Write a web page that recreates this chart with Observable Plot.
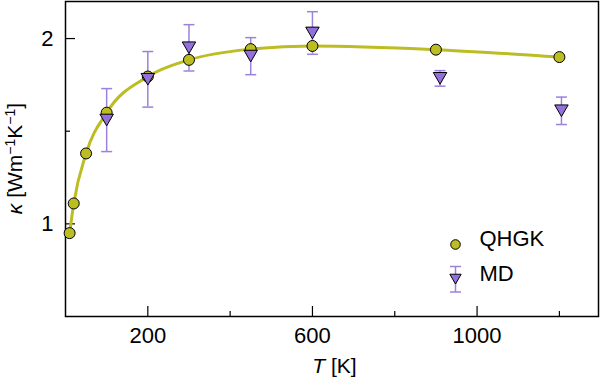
<!DOCTYPE html>
<html>
<head>
<meta charset="utf-8">
<script src="https://cdn.jsdelivr.net/npm/d3@7"></script>
<script src="https://cdn.jsdelivr.net/npm/@observablehq/plot@0.6"></script>
<style>
  html, body { margin: 0; padding: 0; background: #fff; }
  #chart svg { display: block; font-family: "Liberation Sans", Arial, Helvetica, sans-serif; }
</style>
</head>
<body>
<div id="chart"></div>
<script>
// ---- data ----
const qhgkT = [10, 20, 50, 100, 200, 300, 450, 600, 900, 1200];
const qhgkK = [0.95, 1.11, 1.38, 1.60, 1.795, 1.885, 1.943, 1.96, 1.94, 1.90];
const mdT   = [100, 200, 300, 450, 600, 910, 1205];
const mdK   = [1.56, 1.78, 1.95, 1.905, 2.03, 1.785, 1.61];
const mdErr = [0.17, 0.15, 0.125, 0.10, 0.115, 0.042, 0.074];
const xTicks = [200, 600, 1000];
const xMinorTicks = [400, 800, 1200];
const yTicks = [1, 2];
const yMinorTicks = [1.5];
const seriesNames = ["QHGK", "MD"];

// ---- tables built from arrays ----
const qhgk = qhgkT.map((T, i) => ({T, k: qhgkK[i]}));
const md = mdT.map((T, i) => ({T, k: mdK[i], lo: mdK[i] - mdErr[i], hi: mdK[i] + mdErr[i]}));

const olive = "#bcbd22";
const purple = "#9370db";
const barColor = "#9b82dc";
const font = "Liberation Sans, Arial, Helvetica, sans-serif";
const fs = 22;

const cap = {draw(ctx) { ctx.moveTo(-5.5, 0); ctx.lineTo(5.5, 0); }};
const legendBar = {draw(ctx) {
  ctx.moveTo(-5.5, -12.8); ctx.lineTo(5.5, -12.8);
  ctx.moveTo(0, -12.8); ctx.lineTo(0, 12.8);
  ctx.moveTo(-5.5, 12.8); ctx.lineTo(5.5, 12.8);
}};

const W = 600, H = 379, mL = 65, mR = 2, mT = 1, mB = 63;
const fmt = d => String(d);

const plot = Plot.plot({
  width: W, height: H,
  marginLeft: mL, marginRight: mR, marginTop: mT, marginBottom: mB,
  style: {fontFamily: font, fontSize: fs + "px", color: "#000", background: "#fff"},
  x: {domain: [0, 1295]},
  y: {domain: [0.5, 2.2]},
  marks: [
    Plot.axisX({ticks: xTicks, tickFormat: fmt, tickSize: -10, tickPadding: 21, fontSize: fs, label: null, strokeWidth: 1.2}),
    Plot.axisX({ticks: xMinorTicks, tickSize: -5, tickFormat: () => "", label: null, strokeWidth: 1.2}),
    Plot.axisY({ticks: yTicks, tickFormat: fmt, tickSize: -10, tickPadding: 22, fontSize: fs, label: null, strokeWidth: 1.2}),
    Plot.axisY({ticks: yMinorTicks, tickSize: -5, tickFormat: () => "", label: null, strokeWidth: 1.2}),
    Plot.frame({stroke: "#000", strokeWidth: 1.5}),
    // QHGK curve
    Plot.line(qhgk, {x: "T", y: "k", stroke: olive, strokeWidth: 3, curve: "monotone-x"}),
    // MD error bars
    Plot.ruleX(md, {x: "T", y1: "lo", y2: "hi", stroke: barColor, strokeWidth: 1.5}),
    Plot.dot(md, {x: "T", y: "lo", symbol: cap, fill: "none", stroke: barColor, strokeWidth: 1.5}),
    Plot.dot(md, {x: "T", y: "hi", symbol: cap, fill: "none", stroke: barColor, strokeWidth: 1.5}),
    // QHGK points
    Plot.dot(qhgk, {x: "T", y: "k", r: 5.5, fill: olive, stroke: "#000", strokeWidth: 1}),
    // MD points
    Plot.dot(md, {x: "T", y: "k", symbol: "triangle", rotate: 180, r: 5, dy: -2, fill: purple, stroke: "#000", strokeWidth: 1}),
    // legend
    Plot.dot([seriesNames[0]], {frameAnchor: "bottom-right", dx: -143, dy: -72, r: 4.8, fill: olive, stroke: "#000", strokeWidth: 1}),
    Plot.dot([seriesNames[1]], {frameAnchor: "bottom-right", dx: -143, dy: -37.2, symbol: legendBar, fill: "none", stroke: barColor, strokeWidth: 1.5}),
    Plot.dot([seriesNames[1]], {frameAnchor: "bottom-right", dx: -143, dy: -39, symbol: "triangle", rotate: 180, r: 4.2, fill: purple, stroke: "#000", strokeWidth: 1}),
    Plot.text([seriesNames[0]], {text: d => d, frameAnchor: "bottom-right", dx: -119, dy: -71, textAnchor: "start", fontSize: fs, fill: "#000"}),
    Plot.text([seriesNames[1]], {text: d => d, frameAnchor: "bottom-right", dx: -119, dy: -36, textAnchor: "start", fontSize: fs, fill: "#000"})
  ]
});

document.getElementById("chart").appendChild(plot);

// axis titles with italic symbols
const svg = d3.select(plot);
const xl = svg.append("text")
  .attr("x", (mL + W - mR) / 2 + 3).attr("y", H - 6)
  .attr("text-anchor", "middle").attr("font-size", 21).attr("font-family", font).attr("fill", "#000");
xl.append("tspan").attr("font-style", "italic").text("T");
xl.append("tspan").text(" [K]");

const yl = svg.append("text")
  .attr("transform", `translate(22,${(mT + H - mB) / 2}) rotate(-90)`)
  .attr("text-anchor", "middle").attr("font-size", 21).attr("font-family", font).attr("fill", "#000");
yl.append("tspan").attr("font-style", "italic").text("κ");
yl.append("tspan").text(" [Wm");
yl.append("tspan").attr("dy", -7).attr("font-size", 14).text("−1");
yl.append("tspan").attr("dy", 7).text("K");
yl.append("tspan").attr("dy", -7).attr("font-size", 14).text("−1");
yl.append("tspan").attr("dy", 7).text("]");
</script>
</body>
</html>
